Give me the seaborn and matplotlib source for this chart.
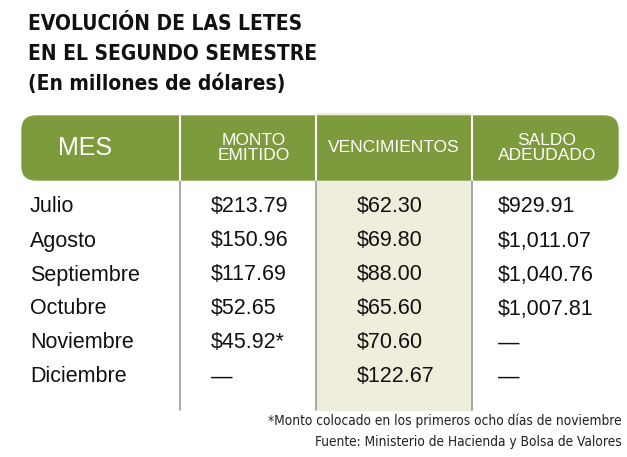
import matplotlib
matplotlib.use("Agg")
import matplotlib.pyplot as plt
from matplotlib.patches import FancyBboxPatch, Rectangle
import seaborn as sns

sns.set_theme(style="white")

title_lines = ["EVOLUCIÓN DE LAS LETES", "EN EL SEGUNDO SEMESTRE", "(En millones de dólares)"]
headers = ["MES", "MONTO\nEMITIDO", "VENCIMIENTOS", "SALDO\nADEUDADO"]
meses = ["Julio", "Agosto", "Septiembre", "Octubre", "Noviembre", "Diciembre"]
monto = ["$213.79", "$150.96", "$117.69", "$52.65", "$45.92*", "—"]
venc = ["$62.30", "$69.80", "$88.00", "$65.60", "$70.60", "$122.67"]
saldo = ["$929.91", "$1,011.07", "$1,040.76", "$1,007.81", "—", "—"]
notes = ["*Monto colocado en los primeros ocho días de noviembre",
         "Fuente: Ministerio de Hacienda y Bolsa de Valores"]

W, H = 627, 457
fig = plt.figure(figsize=(W/100, H/100), dpi=100)
ax = fig.add_axes([0, 0, 1, 1])
ax.set_xlim(0, W); ax.set_ylim(H, 0); ax.axis("off")

green = "#7d9b3c"
body = ["Liberation Sans", "DejaVu Sans"]

for i, t in enumerate(title_lines):
    ax.text(28, 24 + i*30, t, fontfamily="DejaVu Sans", fontstretch="condensed",
            fontweight="bold", fontsize=15, color="#111111", va="center", ha="left")

ax.add_patch(Rectangle((316, 113), 156, 297, color="#efeedd", zorder=0))
ax.add_patch(FancyBboxPatch((22, 116), 596, 64, boxstyle="round,pad=0,rounding_size=14",
                            color=green, zorder=1))
seps = [180, 316, 472]
for x in seps:
    ax.plot([x, x], [116, 180], color="white", lw=1.5, zorder=2)
    ax.plot([x, x], [180, 410], color="#9a9a9a", lw=1.2, zorder=1)

hx = [85, 254, 394, 547]
for i, h in enumerate(headers):
    ax.text(hx[i], 148, h, color="white", fontfamily=body, ha="center", va="center",
            fontsize=18 if i == 0 else 12.5, linespacing=0.95, zorder=3)

cols = [(30, meses), (211, monto), (357, venc), (498, saldo)]
for r in range(len(meses)):
    y = 207 + r*34
    for x, vals in cols:
        ax.text(x, y, vals[r], fontfamily=body, fontsize=15.5, color="#111111",
                ha="left", va="center")

for i, n in enumerate(notes):
    ax.text(622, 421 + i*21, n, fontfamily="DejaVu Sans", fontstretch="condensed",
            fontsize=9.8, color="#222222", ha="right", va="center")

fig.savefig("out.png", dpi=100, facecolor="white")
